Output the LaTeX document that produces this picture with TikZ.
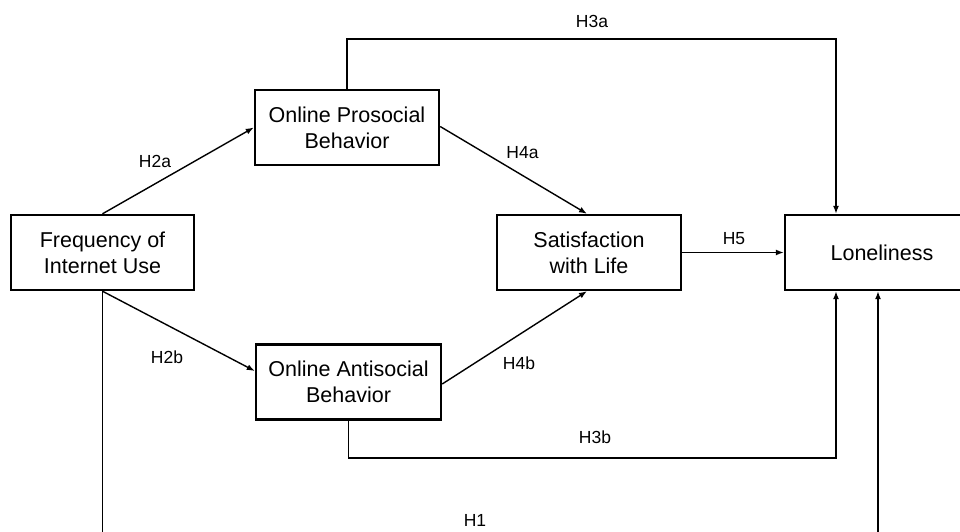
\documentclass[tikz,border=0pt]{standalone}
\usepackage{fontspec}
\setmainfont{Liberation Sans}
\usetikzlibrary{arrows.meta,calc}
\begin{document}
\begin{tikzpicture}[x=1pt,y=-1pt,
  box/.style={draw=black,line width=2.4pt,minimum height=75pt,inner sep=0pt,align=center,
    font=\fontsize{21.5}{26}\selectfont},
  conn/.style={line width=1.4pt,-{Latex[length=8pt,width=6pt]}},
  lbl/.style={font=\fontsize{17.5}{20}\selectfont,inner sep=0pt}]
\useasboundingbox (0,0) rectangle (960,532);
\node[box,minimum width=183pt] (freq) at (102.5,252.5) {Frequency of\\Internet Use};
\node[box,minimum width=184pt] (pro) at (347,127.5) {Online Prosocial\\Behavior};
\node[box,minimum width=185pt] (anti) at (348.5,382) {Online Antisocial\\Behavior};
\node[box,minimum width=184pt] (sat) at (589,252.5) {Satisfaction\\with Life};
\node[box,minimum width=194pt] (lon) at (882,252.5) {Loneliness};
% connectors
\draw[conn] (freq.north) -- ([yshift=0pt]pro.west);
\draw[conn] (freq.south) -- ([yshift=11pt]anti.west);
\draw[conn] ([yshift=1pt]pro.east) -- ([xshift=-2pt]sat.north);
\draw[conn] ([yshift=-2pt]anti.east) -- ([xshift=-2pt]sat.south);
\draw[conn] (sat.east) -- (lon.west);
\coordinate (a1) at (347,39);
\coordinate (a2) at (836,39);
\draw[conn] (pro.north) -- (a1) -- (a2) -- (lon.north -| a2);
\coordinate (b1) at (348.5,458);
\coordinate (b2) at (836,458);
\draw[conn] (anti.south) -- (b1) -- (b2) -- (lon.south -| b2);
\coordinate (c1) at (102.5,560);
\coordinate (c2) at (878,560);
\draw[conn] (freq.south) -- (c1) -- (c2) -- (lon.south -| c2);
% labels
\node[lbl] (h2a) at (155,161) {H2a};
\node[lbl] (h2b) at (167,357) {H2b};
\node[lbl] (h4a) at (522.5,153) {H4a};
\node[lbl] (h4b) at (519,363) {H4b};
\node[lbl] (h5) at (734,239) {H5};
\node[lbl] (h3a) at (592,21) {H3a};
\node[lbl] (h3b) at (595,437) {H3b};
\node[lbl] (h1) at (475,520) {H1};
\end{tikzpicture}
\end{document}
